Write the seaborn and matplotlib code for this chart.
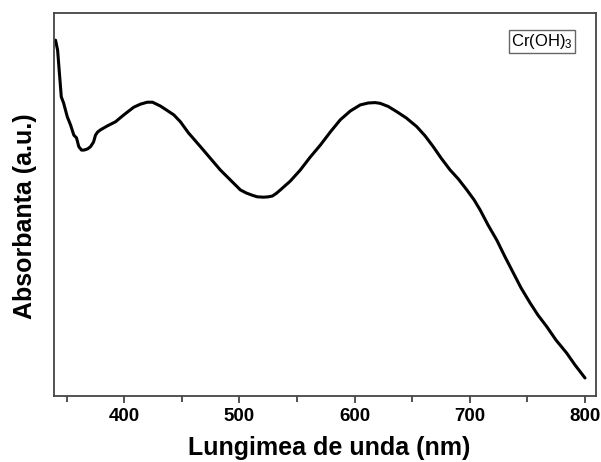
import numpy as np
import pandas as pd
import matplotlib
matplotlib.use("Agg")
import matplotlib.pyplot as plt
from matplotlib.ticker import MultipleLocator
import seaborn as sns

wavelength = [340.3, 342.1, 345.3, 347.3, 350.5, 353.3, 356.2, 358.5, 360.5, 362.9,
              364.9, 368.1, 370.7, 373.3, 375.0, 376.8, 379.4, 385.2, 392.4, 399.6,
              408.2, 414.1, 419.9, 424.5, 431.4, 443.0, 448.7, 455.7, 466.1, 483.4,
              500.8, 505.9, 511.2, 515.5, 521.0, 525.1, 528.5, 532.0, 535.5, 544.1,
              552.8, 561.5, 570.2, 578.8, 587.5, 596.2, 604.9, 611.8, 617.9, 622.2,
              629.1, 636.7, 644.8, 654.0, 661.2, 668.2, 675.1, 682.9, 689.9, 697.4,
              703.7, 708.9, 715.9, 723.4, 730.6, 737.8, 744.5, 752.3, 759.2, 766.8,
              774.8, 784.1, 791.3, 800.0]
absorbance = [0.929, 0.903, 0.781, 0.765, 0.729, 0.708, 0.681, 0.674, 0.651, 0.642,
              0.642, 0.645, 0.651, 0.663, 0.681, 0.689, 0.695, 0.705, 0.716, 0.734,
              0.754, 0.762, 0.767, 0.767, 0.757, 0.734, 0.716, 0.687, 0.651, 0.590,
              0.538, 0.530, 0.524, 0.520, 0.519, 0.520, 0.522, 0.529, 0.538, 0.561,
              0.590, 0.624, 0.655, 0.689, 0.721, 0.744, 0.760, 0.765, 0.766, 0.764,
              0.756, 0.742, 0.726, 0.703, 0.679, 0.651, 0.621, 0.590, 0.567, 0.538,
              0.512, 0.486, 0.446, 0.407, 0.363, 0.321, 0.282, 0.243, 0.211, 0.181,
              0.146, 0.112, 0.081, 0.047]
x_ticks = [400, 500, 600, 700, 800]
sample_label = "Cr(OH)$_3$"
x_label = "Lungimea de unda (nm)"
y_label = "Absorbanta (a.u.)"

sns.set_style("white")
plt.rcParams["font.family"] = ["Liberation Sans", "DejaVu Sans"]
plt.rcParams["mathtext.fontset"] = "custom"
plt.rcParams["mathtext.rm"] = "Liberation Sans"
plt.rcParams["mathtext.it"] = "Liberation Sans"
plt.rcParams["text.color"] = "black"
plt.rcParams["axes.labelcolor"] = "black"
plt.rcParams["xtick.color"] = "black"

df = pd.DataFrame({"wl": wavelength, "abs": absorbance})

fig = plt.figure(figsize=(6.01, 4.62), dpi=100)
ax = fig.add_axes([0.0899, 0.1429, 0.9017, 0.829])
sns.lineplot(data=df, x="wl", y="abs", color="black", linewidth=2.2, ax=ax)
ax.lines[0].set_solid_joinstyle("round")

ax.set_xlim(339, 809.5)
ax.set_ylim(0, 1)
ax.set_xticks(x_ticks)
ax.xaxis.set_minor_locator(MultipleLocator(50))
ax.set_yticks([])
ax.tick_params(axis="x", which="major", direction="out", length=5, width=1.2,
               colors="#333333", labelcolor="black", labelsize=13.5, bottom=True, pad=4)
ax.tick_params(axis="x", which="minor", direction="out", length=4, width=1.2,
               colors="#333333", bottom=True)
for lab in ax.get_xticklabels():
    lab.set_fontweight("bold")
for s in ax.spines.values():
    s.set_color("#444444")
    s.set_linewidth(1.3)

ax.set_xlabel(x_label, fontsize=18, fontweight="bold")
ax.set_ylabel(y_label, fontsize=18, fontweight="bold")
ax.xaxis.set_label_coords(0.507, -0.104)
ax.yaxis.set_label_coords(-0.031, 0.47)

ax.text(0.900, 0.926, sample_label, transform=ax.transAxes, ha="center", va="center",
        fontsize=12,
        bbox=dict(boxstyle="square,pad=0.12", facecolor="white", edgecolor="#666666", linewidth=1))

fig.savefig("out.png", dpi=100)
